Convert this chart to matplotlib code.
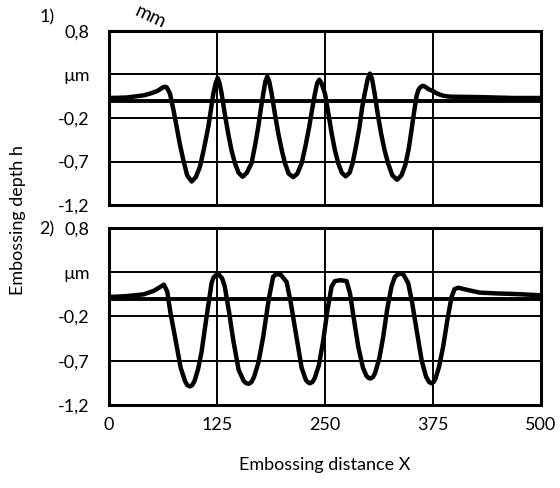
import matplotlib
matplotlib.use("Agg")
import matplotlib.pyplot as plt

plt.rcParams['font.family'] = ['Lato', 'DejaVu Sans']

# depth profile 1) (x in embossing distance, h in um)
x1 = [0, 20, 40, 47.5, 56, 62, 64.8, 67, 70.6, 74.5, 78.3, 82, 86, 90.5, 95.7, 100.5,
      105.3, 110, 115, 120.8, 123.5, 125.8, 128, 130.4, 134, 138, 141.8, 145.8, 150,
      154.7, 159.5, 165, 169, 172.8, 176, 178.6, 181, 183.2, 185.5, 188.3, 192, 196,
      200, 203.7, 208, 213.3, 218, 223, 227.5, 231.8, 235.5, 238.4, 241, 243.4, 246,
      250, 254, 257.8, 261.5, 265.4, 269.5, 274, 278.5, 282, 286, 290, 293, 296, 299.5,
      302, 304.5, 307.5, 311, 315, 319, 323, 328, 333.5, 338.5, 343, 347, 350, 353,
      356, 358, 360, 363, 366, 370, 375, 380, 387, 395, 430, 468, 500]
h1 = [0.03, 0.035, 0.06, 0.08, 0.11, 0.15, 0.16, 0.15, 0.08, -0.1, -0.30, -0.5, -0.68,
      -0.86, -0.93, -0.88, -0.76, -0.55, -0.30, 0.08, 0.2, 0.26, 0.2, 0.08, -0.15,
      -0.38, -0.57, -0.72, -0.83, -0.875, -0.83, -0.72, -0.52, -0.30, -0.08, 0.08,
      0.22, 0.275, 0.22, 0.08, -0.15, -0.38, -0.57, -0.72, -0.84, -0.88, -0.84, -0.72,
      -0.52, -0.30, -0.08, 0.08, 0.2, 0.24, 0.2, 0.08, -0.15, -0.38, -0.57, -0.72,
      -0.83, -0.87, -0.83, -0.72, -0.52, -0.30, -0.08, 0.08, 0.25, 0.31, 0.25, 0.08,
      -0.15, -0.38, -0.57, -0.72, -0.86, -0.91, -0.86, -0.74, -0.55, -0.35, -0.14,
      0.05, 0.12, 0.15, 0.17, 0.16, 0.13, 0.11, 0.08, 0.055, 0.045, 0.04, 0.03, 0.03]

# depth profile 2)
x2 = [0, 20, 40, 52, 63.6, 67.5, 71, 76.4, 83, 88, 90.5, 93.7, 96.5, 99, 103, 107, 113,
      118.8, 121, 124, 127.6, 131, 134, 139, 143.9, 150, 156, 159, 162, 165, 168, 173,
      178.5, 185, 190, 194, 199, 205.6, 210, 217, 223, 228, 230.5, 232.6, 235.5, 238,
      243, 248, 253, 257.7, 261.5, 268, 275, 279, 283, 288.5, 294, 298, 300.5, 302.7,
      305.5, 308, 313, 317.4, 322, 327, 331, 336.7, 341, 346.4, 351, 356, 362, 367,
      370.5, 373.3, 375.8, 378, 382, 386.8, 392, 396.5, 400, 404.2, 415, 429, 450, 468,
      500]
h2 = [0.02, 0.03, 0.05, 0.09, 0.16, 0.08, -0.15, -0.43, -0.78, -0.93, -0.975, -0.99,
      -0.975, -0.93, -0.8, -0.61, -0.2, 0.18, 0.24, 0.27, 0.27, 0.23, 0.14, -0.15,
      -0.47, -0.8, -0.93, -0.955, -0.96, -0.94, -0.88, -0.72, -0.43, 0.0, 0.25, 0.28,
      0.27, 0.19, -0.02, -0.43, -0.78, -0.92, -0.945, -0.955, -0.94, -0.9, -0.75,
      -0.47, -0.12, 0.14, 0.2, 0.21, 0.2, 0.06, -0.2, -0.54, -0.78, -0.87, -0.895,
      -0.9, -0.885, -0.84, -0.67, -0.43, -0.12, 0.14, 0.25, 0.29, 0.27, 0.175, -0.05,
      -0.35, -0.7, -0.88, -0.94, -0.955, -0.94, -0.9, -0.77, -0.54, -0.22, 0.02, 0.11,
      0.125, 0.1, 0.07, 0.06, 0.055, 0.04]

xticks = [0, 125, 250, 375, 500]
yticks = [0.8, 0.3, -0.2, -0.7, -1.2]
ylabels = ["0,8", "µm", "-0,2", "-0,7", "-1,2"]

fig = plt.figure(figsize=(5.6, 4.88), dpi=100)
ax1 = fig.add_axes([0.1946, 0.5799, 0.7714, 0.3566])
ax2 = fig.add_axes([0.1946, 0.1701, 0.7714, 0.3627])

for ax, x, h, tag, ty in [(ax1, x1, h1, "1)", 1.08), (ax2, x2, h2, "2)", 0.995)]:
    ax.set_xlim(0, 500)
    ax.set_ylim(-1.2, 0.8)
    ax.set_xticks(xticks)
    ax.set_yticks(yticks)
    ax.set_yticklabels(ylabels)
    ax.grid(True, color="black", lw=1.4)
    ax.axhline(0, color="black", lw=2.8, zorder=2)
    ax.plot(x, h, color="black", lw=3.2, zorder=3, solid_joinstyle="round")
    for s in ax.spines.values():
        s.set_linewidth(2.2)
    ax.tick_params(length=0, labelsize=13)
    ax.tick_params(axis="y", pad=14)
    ax.tick_params(axis="x", pad=9)
    ax.text(-0.144, ty, tag, transform=ax.transAxes, fontsize=13,
            ha="center", va="center")

ax1.tick_params(axis="x", labelbottom=False)

fig.text(0.032, 0.55, "Embossing depth h", rotation=90, fontsize=13,
         ha="center", va="center")
fig.text(0.58, 0.047, "Embossing distance X", fontsize=13, ha="center",
         va="center")
fig.text(0.268, 0.966, "mm", rotation=-25, fontsize=14, ha="center",
         va="center")

fig.savefig("out.png", dpi=100)
